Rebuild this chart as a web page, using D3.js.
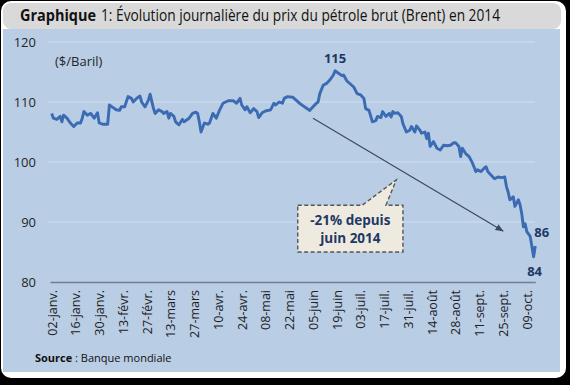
<!DOCTYPE html>
<html>
<head>
<meta charset="utf-8">
<script src="https://cdn.jsdelivr.net/npm/d3@7"></script>
<style>
  html, body { margin: 0; padding: 0; background: #000; }
  svg { display: block; font-family: 'Open Sans', sans-serif; }
</style>
</head>
<body>
<svg id="mainsvg" width="570" height="385"></svg>
<script>
// Brent daily price, 2014
const days = [
  '01-02','01-03','01-05','01-07','01-08','01-09','01-11','01-13','01-15','01-17',
  '01-19','01-20','01-21','01-23','01-25','01-27','01-29','01-30','02-01','02-04',
  '02-05','02-07','02-09','02-11','02-12','02-14','02-16','02-18','02-19','02-21',
  '02-23','02-24','02-26','02-28','03-01','03-03','03-04','03-06','03-08','03-09',
  '03-11','03-12','03-13','03-15','03-16','03-18','03-20','03-21','03-24','03-26',
  '03-28','03-29','03-30','03-31','04-02','04-04','04-05','04-07','04-09','04-11',
  '04-13','04-16','04-19','04-21','04-23','04-24','04-26','04-27','04-29','05-01',
  '05-03','05-04','05-06','05-08','05-11','05-13','05-14','05-16','05-18','05-19',
  '05-21','05-24','05-26','05-28','05-30','06-01','06-03','06-05','06-07','06-08',
  '06-09','06-11','06-13','06-15','06-17','06-18','06-20','06-22','06-23','06-25',
  '06-27','06-29','07-01','07-03','07-05','07-06','07-08','07-10','07-12','07-13',
  '07-15','07-16','07-18','07-20','07-21','07-22','07-23','07-25','07-27','07-28',
  '07-30','08-01','08-02','08-04','08-05','08-07','08-08','08-10','08-11','08-12',
  '08-13','08-15','08-17','08-19','08-21','08-23','08-25','08-27','08-28','08-30',
  '08-31','09-01','09-03','09-05','09-07','09-09','09-10','09-12','09-14','09-15',
  '09-16','09-18','09-20','09-22','09-24','09-26','09-27','09-28','09-29','10-01',
  '10-02','10-04','10-05','10-06','10-07','10-08','10-09','10-11','10-12','10-13',
  '10-14'
];
const prices = [
  108.1,107.3,107.1,107.6,106.7,107.8,107.3,106.5,105.9,106.5,
  106.5,107.3,108.4,107.8,108.1,107.3,108.2,106.5,106.3,106.3,
  109.5,109.1,108.7,108.6,109.2,109.2,110.9,110.6,110.0,110.6,
  111.0,110.0,109.2,110.3,111.3,108.9,108.1,108.7,108.4,108.1,
  108.4,107.3,108.1,107.6,106.7,106.2,107.1,106.7,107.3,108.1,
  108.3,108.1,106.7,105.0,106.5,106.3,106.5,108.1,107.3,108.7,
  109.8,110.2,110.2,109.8,110.6,109.5,108.7,109.2,108.2,108.9,
  108.4,107.4,108.2,108.5,108.7,109.8,109.5,110.0,109.8,110.6,
  110.9,110.8,110.3,109.8,109.4,109.0,108.6,109.2,109.8,110.0,
  111.4,112.8,113.1,113.7,114.5,115.2,114.8,114.4,114.5,113.5,
  113.0,112.5,111.4,111.2,110.6,108.9,108.6,106.7,106.9,107.6,
  107.4,108.4,107.6,108.1,107.5,108.4,108.1,108.2,107.6,106.4,
  105.0,105.3,105.9,105.0,106.0,105.3,104.8,105.0,103.9,104.8,
  102.6,103.4,102.3,102.0,102.8,102.7,102.8,103.2,103.2,102.6,
  100.9,102.3,101.4,100.9,99.8,98.4,98.7,98.4,99.0,99.2,
  98.4,97.8,97.2,97.5,97.4,97.5,95.9,95.0,93.7,94.2,
  92.6,93.7,92.9,91.4,89.2,89.7,88.4,87.6,85.9,84.2,
  86.0
];
const tickDays = ['01-02','01-16','01-30','02-13','02-27','03-13','03-27','04-10','04-24','05-08',
  '05-22','06-05','06-19','07-03','07-17','07-31','08-14','08-28','09-11','09-25','10-09'];
const tickLabels = ['02-janv.','16-janv.','30-janv.','13-févr.','27-févr.','13-mars','27-mars',
  '10-avr.','24-avr.','08-mai','22-mai','05-juin','19-juin','03-juil.','17-juil.','31-juil.',
  '14-août','28-août','11-sept.','25-sept.','09-oct.'];
const yTicks = [80, 90, 100, 110, 120];

const parse = d3.timeParse('%Y-%m-%d');
const day = s => parse('2014-' + s);
const data = days.map((d, i) => ({ date: day(d), value: prices[i] }));

const svg = d3.select('#mainsvg');
const width = +svg.attr('width');
const height = +svg.attr('height');

// frame
svg.append('rect').attr('width', width).attr('height', height).attr('fill', '#000');
svg.append('rect').attr('x', 1).attr('y', 1).attr('width', 565).attr('height', 377)
  .attr('rx', 10).attr('fill', '#fff');
svg.append('rect').attr('x', 3).attr('y', 3).attr('width', 558).attr('height', 26)
  .attr('rx', 8).attr('fill', '#d9d9d9');
svg.append('rect').attr('x', 3).attr('y', 29).attr('width', 557).attr('height', 343)
  .attr('fill', '#b9cde5');

// title in two pieces so each can be fitted to its width
svg.append('text').attr('x', 20).attr('y', 21)
  .attr('font-size', 15.5).attr('font-weight', 'bold').attr('fill', '#111')
  .attr('textLength', 76).attr('lengthAdjust', 'spacingAndGlyphs')
  .text('Graphique');
svg.append('text').attr('x', 101).attr('y', 21)
  .attr('font-size', 15.5).attr('fill', '#111')
  .attr('textLength', 399).attr('lengthAdjust', 'spacingAndGlyphs')
  .text('1: Évolution journalière du prix du pétrole brut (Brent) en 2014');

const x = d3.scaleTime()
  .domain([day('01-01'), day('10-14')])
  .range([50, 535.3]);
const y = d3.scaleLinear()
  .domain([80, 120])
  .range([282, 42]);

const g = svg.append('g').attr('id', 'maingroup');

// gridlines
g.selectAll('.grid')
  .data(yTicks.filter(d => d > 80))
  .join('line')
  .attr('class', 'grid')
  .attr('x1', 48).attr('x2', 535)
  .attr('y1', d => y(d)).attr('y2', d => y(d))
  .attr('stroke', '#c9d9ed').attr('stroke-width', 1.5);

const yAxis = d3.axisLeft(y).tickValues(yTicks).tickSize(0).tickPadding(0);
g.append('g').attr('transform', 'translate(36,0)').call(yAxis)
  .call(a => a.select('.domain').remove())
  .selectAll('text')
  .attr('font-size', 13).attr('fill', '#262626')
  .attr('font-family', "'Open Sans', sans-serif");

const xAxis = d3.axisBottom(x)
  .tickValues(tickDays.map(day))
  .tickFormat((d, i) => tickLabels[i])
  .tickSize(0).tickPadding(0);
g.append('g').attr('transform', `translate(0,${y(80)})`).call(xAxis)
  .call(a => a.select('.domain').attr('stroke', '#6f7f96').attr('stroke-width', 1.5))
  .selectAll('text')
  .attr('font-size', 12.5).attr('fill', '#222')
  .attr('font-family', "'Open Sans', sans-serif")
  .attr('text-anchor', 'end')
  .attr('dy', '0.35em')
  .attr('transform', 'translate(0,8) rotate(-90)');

svg.append('text').attr('x', 55).attr('y', 66)
  .attr('font-size', 13).attr('fill', '#262626').text('($/Baril)');

// price line
const line = d3.line().x(d => x(d.date)).y(d => y(d.value));
g.append('path')
  .datum(data)
  .attr('d', line)
  .attr('fill', 'none')
  .attr('stroke', '#3b6bb2')
  .attr('stroke-width', 2.9)
  .attr('stroke-linejoin', 'round');

// labels on max, min and last point
const maxPt = data[d3.maxIndex(data, d => d.value)];
const minPt = data[d3.minIndex(data, d => d.value)];
const lastPt = data[data.length - 1];
const lab = (p, dx, dy, anchor) => g.append('text')
  .attr('x', x(p.date) + dx).attr('y', y(p.value) + dy)
  .attr('text-anchor', anchor)
  .attr('font-size', 13).attr('font-weight', 'bold').attr('fill', '#1f3864')
  .text(Math.round(p.value));
lab(maxPt, 0, -8, 'middle');
lab(minPt, 1, 19, 'middle');
lab(lastPt, -1, -9, 'start');

// trend arrow
svg.append('defs').append('marker')
  .attr('id', 'arr').attr('viewBox', '0 0 10 10')
  .attr('refX', 9).attr('refY', 5)
  .attr('markerWidth', 7).attr('markerHeight', 7)
  .attr('orient', 'auto')
  .append('path').attr('d', 'M0,1 L10,5 L0,9 Z').attr('fill', '#3b4a60');
g.append('line')
  .attr('x1', x(day('06-05'))).attr('y1', y(107.3))
  .attr('x2', x(day('09-25'))).attr('y2', y(88.5))
  .attr('stroke', '#3b4a60').attr('stroke-width', 1.2)
  .attr('marker-end', 'url(#arr)');

// callout
const bx0 = x(day('05-27')), bx1 = x(day('07-28'));
const by0 = y(92.8), by1 = y(85);
const pl = x(day('07-04')), pr = x(day('07-18'));
const tip = [x(day('07-24')), y(97)];
g.append('path')
  .attr('d', `M${bx0},${by0} L${pl},${by0} L${tip[0]},${tip[1]} L${pr},${by0} L${bx1},${by0} L${bx1},${by1} L${bx0},${by1} Z`)
  .attr('fill', '#eeeadf')
  .attr('stroke', '#555').attr('stroke-width', 1.4)
  .attr('stroke-dasharray', '4,2.5');
const calloutText = ['-21% depuis', 'juin 2014'];
g.selectAll('.callout')
  .data(calloutText)
  .join('text')
  .attr('class', 'callout')
  .attr('x', (bx0 + bx1) / 2)
  .attr('y', (d, i) => by0 + 20 + i * 18)
  .attr('text-anchor', 'middle')
  .attr('font-size', 13.5).attr('font-weight', 'bold').attr('fill', '#1f3864')
  .text(d => d);

const src = svg.append('text').attr('x', 35).attr('y', 362)
  .attr('font-size', 11).attr('fill', '#111');
src.append('tspan').attr('font-weight', 'bold').text('Source');
src.append('tspan').text(' : Banque mondiale');
</script>
</body>
</html>
